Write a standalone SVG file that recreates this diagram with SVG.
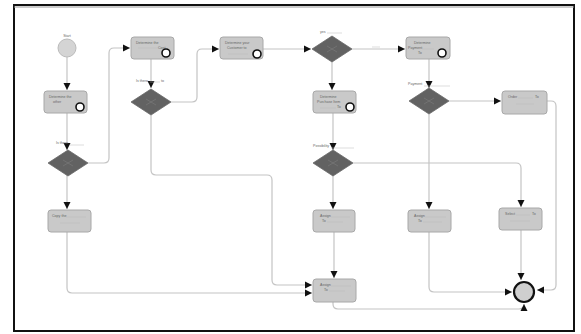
<svg xmlns="http://www.w3.org/2000/svg" width="581" height="334" viewBox="0 0 581 334">
<style>
.c{fill:none;stroke:#c4c4c4;stroke-width:1.2}
.t{fill:#c9c9c9;stroke:#a8a8a8;stroke-width:1}
.g{fill:#626262;stroke:#6a6a6a;stroke-width:0.8}
.x{stroke:#7c7c7c;stroke-width:0.6}
.ev{fill:#fff;stroke:#111;stroke-width:1.6}
.l{font-family:"Liberation Sans",Arial,sans-serif;font-size:3.6px;fill:#666}
.u{stroke:#bbb;stroke-width:0.5}
</style>
<defs>
<marker id="a" markerWidth="8" markerHeight="8" refX="7" refY="4" orient="auto" markerUnits="userSpaceOnUse">
<path d="M0,0.5 L7,4 L0,7.5 Z" fill="#111"/>
</marker>
</defs>
<rect x="0" y="0" width="581" height="334" fill="#fff"/>
<rect x="14" y="5" width="560" height="326" fill="#fff" stroke="#111" stroke-width="2"/>
<line x1="14" y1="7" x2="574" y2="7" stroke="#999" stroke-width="1"/>

<g id="connectors">
<path class="c" d="M67,57 V90" marker-end="url(#a)"/>
<path class="c" d="M67,113 V150" marker-end="url(#a)"/>
<path class="c" d="M88,163 H104 Q109,163 109,158 V53 Q109,48 114,48 H130" marker-end="url(#a)"/>
<path class="c" d="M151,59 V88" marker-end="url(#a)"/>
<path class="c" d="M171,102 H192 Q197,102 197,97 V54 Q197,49 202,49 H219" marker-end="url(#a)"/>
<path class="c" d="M263,49 H311" marker-end="url(#a)"/>
<path class="c" d="M352,49 H405" marker-end="url(#a)"/>
<path class="c" d="M332,61 V90" marker-end="url(#a)"/>
<path class="c" d="M333,113 V150" marker-end="url(#a)"/>
<path class="c" d="M429,59 V88" marker-end="url(#a)"/>
<path class="c" d="M449,101 H501" marker-end="url(#a)"/>
<path class="c" d="M547,101 H551 Q556,101 556,106 V285 Q556,290 551,290 H537" marker-end="url(#a)"/>
<path class="c" d="M353,163 H516 Q521,163 521,168 V207" marker-end="url(#a)"/>
<path class="c" d="M429,114 V209" marker-end="url(#a)"/>
<path class="c" d="M429,232 V287 Q429,292 434,292 H512" marker-end="url(#a)"/>
<path class="c" d="M521,230 V280" marker-end="url(#a)"/>
<path class="c" d="M333,302 V304 Q333,309 338,309 H519 Q524,309 524,304" marker-end="url(#a)"/>
<path class="c" d="M333,175 V209" marker-end="url(#a)"/>
<path class="c" d="M334,232 V278" marker-end="url(#a)"/>
<path class="c" d="M151,115 V170 Q151,175 156,175 H267 Q272,175 272,180 V280 Q272,285 277,285 H312" marker-end="url(#a)"/>
<path class="c" d="M67,175 V209" marker-end="url(#a)"/>
<path class="c" d="M67,232 V288 Q67,293 72,293 H312" marker-end="url(#a)"/>
</g>

<g id="start">
<circle cx="67" cy="48" r="9" fill="#d4d4d4" stroke="#bbb" stroke-width="1"/>
<text class="l" x="67" y="37" text-anchor="middle">Start</text>
</g>

<g id="task-determine-other">
<rect class="t" x="44" y="91" width="43" height="22" rx="3"/>
<text class="l" x="49" y="98">Determine the</text>
<text class="l" x="53" y="103">other</text>
<circle class="ev" cx="80" cy="107" r="4"/>
</g>

<g id="gw1">
<path class="g" d="M68,150 L88,163 L68,176 L48,163 Z"/>
<path class="x" d="M63,160 L73,166 M73,160 L63,166"/>
<text class="l" x="56" y="144">Is there</text>
<line class="u" x1="70" y1="145" x2="84" y2="145"/>
</g>

<g id="task-determine-cost">
<rect class="t" x="131" y="37" width="43" height="22" rx="3"/>
<text class="l" x="136" y="44">Determine the</text>
<line class="u" x1="138" y1="48" x2="158" y2="48"/>
<text class="l" x="158" y="49">Cost</text>
<circle class="ev" cx="166" cy="53" r="4"/>
</g>

<g id="gw2">
<path class="g" d="M151,89 L171,102 L151,115 L131,102 Z"/>
<path class="x" d="M146,99 L156,105 M156,99 L146,105"/>
<text class="l" x="136" y="82">Is there</text>
<line class="u" x1="150" y1="82" x2="160" y2="82"/>
<text class="l" x="161" y="82">to</text>
</g>

<g id="task-determine-customer">
<rect class="t" x="220" y="37" width="43" height="22" rx="3"/>
<text class="l" x="225" y="44">Determine your</text>
<text class="l" x="227" y="49">Customer to</text>
<line class="u" x1="228" y1="54" x2="248" y2="54"/>
<circle class="ev" cx="257" cy="54" r="4"/>
</g>

<g id="gw3">
<path class="g" d="M332,36 L352,49 L332,62 L312,49 Z"/>
<path class="x" d="M327,46 L337,52 M337,46 L327,52"/>
<text class="l" x="320" y="33">yes</text>
<line class="u" x1="327" y1="33" x2="342" y2="33"/>
<line class="u" x1="372" y1="47" x2="380" y2="47"/>
</g>

<g id="task-determine-payment">
<rect class="t" x="406" y="37" width="44" height="22" rx="3"/>
<text class="l" x="414" y="44">Determine</text>
<text class="l" x="408" y="49">Payment</text>
<line class="u" x1="422" y1="49" x2="434" y2="49"/>
<text class="l" x="418" y="54">To</text>
<circle class="ev" cx="442" cy="53" r="4"/>
</g>

<g id="task-determine-purchase">
<rect class="t" x="313" y="91" width="43" height="22" rx="3"/>
<text class="l" x="320" y="98">Determine</text>
<text class="l" x="317" y="103">Purchase Item</text>
<line class="u" x1="320" y1="108" x2="336" y2="108"/>
<text class="l" x="337" y="108">To</text>
<circle class="ev" cx="350" cy="107" r="4"/>
</g>

<g id="gw4">
<path class="g" d="M333,150 L353,163 L333,176 L313,163 Z"/>
<path class="x" d="M328,160 L338,166 M338,160 L328,166"/>
<text class="l" x="313" y="147">Possibility</text>
<line class="u" x1="331" y1="148" x2="354" y2="148"/>
</g>

<g id="gw5">
<path class="g" d="M429,88 L449,101 L429,114 L409,101 Z"/>
<path class="x" d="M424,98 L434,104 M434,98 L424,104"/>
<text class="l" x="408" y="85">Payment</text>
<line class="u" x1="424" y1="86" x2="450" y2="86"/>
</g>

<g id="task-order">
<rect class="t" x="502" y="91" width="45" height="23" rx="3"/>
<text class="l" x="508" y="98">Order</text>
<line class="u" x1="518" y1="98" x2="533" y2="98"/>
<text class="l" x="535" y="98">To</text>
<line class="u" x1="516" y1="104" x2="534" y2="104"/>
</g>

<g id="task-copy">
<rect class="t" x="48" y="210" width="43" height="22" rx="3"/>
<text class="l" x="52" y="217">Copy the</text>
<line class="u" x1="66" y1="217" x2="86" y2="217"/>
<line class="u" x1="60" y1="223" x2="80" y2="223"/>
</g>

<g id="task-assign-mid">
<rect class="t" x="313" y="210" width="42" height="22" rx="3"/>
<text class="l" x="320" y="217">Assign</text>
<line class="u" x1="331" y1="217" x2="350" y2="217"/>
<text class="l" x="322" y="222">To</text>
<line class="u" x1="327" y1="222" x2="343" y2="222"/>
</g>

<g id="task-assign-low">
<rect class="t" x="313" y="279" width="43" height="23" rx="3"/>
<text class="l" x="320" y="286">Assign</text>
<line class="u" x1="331" y1="286" x2="351" y2="286"/>
<text class="l" x="324" y="291">To</text>
<line class="u" x1="329" y1="291" x2="345" y2="291"/>
</g>

<g id="task-assign-right">
<rect class="t" x="408" y="210" width="43" height="22" rx="3"/>
<text class="l" x="414" y="217">Assign</text>
<line class="u" x1="425" y1="217" x2="446" y2="217"/>
<text class="l" x="418" y="222">To</text>
<line class="u" x1="423" y1="222" x2="442" y2="222"/>
</g>

<g id="task-select">
<rect class="t" x="499" y="208" width="43" height="22" rx="3"/>
<text class="l" x="505" y="215">Select</text>
<line class="u" x1="516" y1="215" x2="530" y2="215"/>
<text class="l" x="532" y="215">To</text>
<line class="u" x1="510" y1="221" x2="530" y2="221"/>
</g>

<g id="end-gateway">
<circle cx="524" cy="292" r="10" fill="#cfcfcf" stroke="#111" stroke-width="2.2"/>
</g>
</svg>
